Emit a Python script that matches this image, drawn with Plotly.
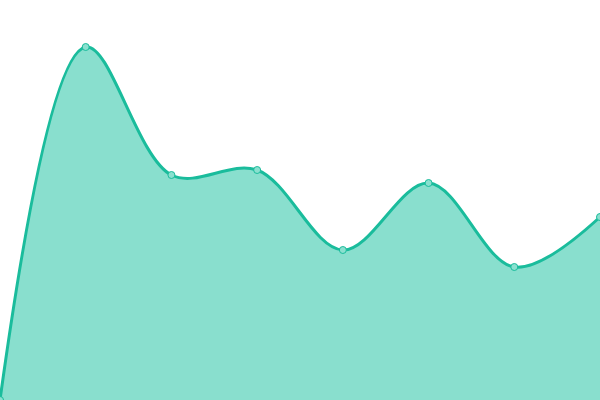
import plotly.graph_objs as go

x_vals = [0, 1, 2, 3, 4, 5, 6, 7]
y_vals = [0, 353, 225, 230, 150, 217, 133, 183]

trace = go.Scatter(x=x_vals,
                   y=y_vals,
                   mode='lines+markers',
                   line=dict(color='#1abc9c', width=3, shape='spline', smoothing=1),
                   marker=dict(size=7, color='#8ae0cf', line=dict(color='#1abc9c', width=1)),
                   fill='tozeroy',
                   fillcolor='#89dfce',
                   cliponaxis=False,
                   hoverinfo='skip'
                   )
layout = go.Layout(width=600, height=400,
                   margin=dict(l=0, r=0, t=0, b=0),
                   paper_bgcolor='white',
                   plot_bgcolor='white',
                   showlegend=False,
                   xaxis=dict(range=[0, 7], visible=False, fixedrange=True),
                   yaxis=dict(range=[0, 400], visible=False, fixedrange=True),
                   )
fig = go.Figure(data=[trace], layout=layout)
# drop the page's default body margin so the chart sits at the window corner
fig.write_html("out.html",
               config={'displayModeBar': False},
               post_script="document.body.style.margin='0';document.body.style.overflow='hidden';")
